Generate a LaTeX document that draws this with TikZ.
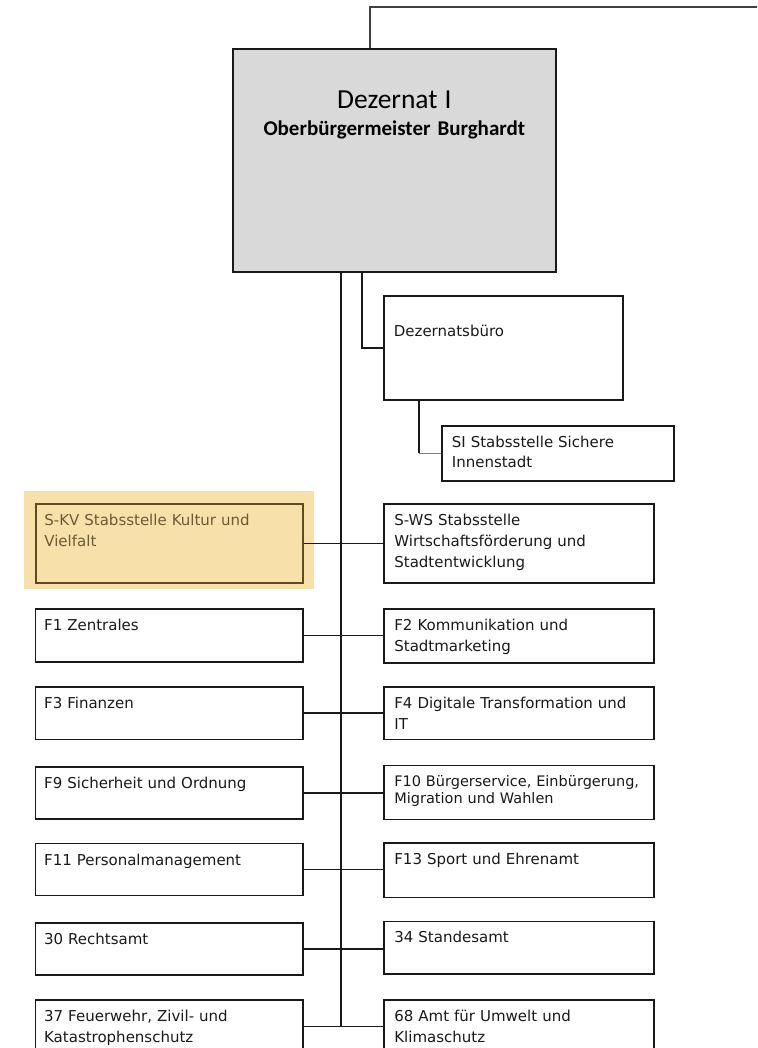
\documentclass[tikz,border=0pt]{standalone}
\usepackage{fontspec}
\setmainfont{DejaVu Sans}
\newfontfamily\headfont{Carlito}
\definecolor{dezgray}{HTML}{D9D9D9}
\definecolor{kvfill}{HTML}{F7E0A9}
\definecolor{kvline}{HTML}{5E4B20}
\definecolor{kvtext}{HTML}{6E5A35}
\tikzset{
  unit/.style={draw=black!90, line width=1.7pt, anchor=north west, inner ysep=0pt,
    align=left, text height=22pt, text depth=31pt, text=black!90,
    font=\fontsize{15}{21}\selectfont},
  leftunit/.style={unit, inner xsep=8.8pt, text width=250pt},
  rightunit/.style={unit, inner xsep=10.5pt, text width=249pt},
  dezbox/.style={draw=black!90, fill=dezgray, line width=1.7pt, anchor=north west,
    inner sep=0pt, text width=323pt, align=center, text height=59.5pt,
    text depth=163.5pt, font=\headfont\fontsize{21}{27.5}\selectfont},
  link/.style={draw=black!90, line width=1.6pt},
}
\begin{document}
\begin{tikzpicture}[x=1pt,y=-1pt]
  \path[use as bounding box, clip] (0,0) rectangle (757,1048);
  % head of the department
  \node[dezbox] (dez) at (232,48)
    {{\fontsize{27.5}{27.5}\selectfont Dezernat I}\\ \textbf{Oberbürgermeister Burghardt}};
  \coordinate (topright) at (757,7);
  \draw[link, draw=black!75] ([xshift=138pt]dez.north west) |- (topright);
  % office and staff unit
  \node[unit, inner xsep=10pt, text width=219pt, text height=41pt, text depth=63pt]
    (dzb) at (383,295) {Dezernatsbüro};
  \node[unit, inner xsep=10pt, text width=212pt, text height=21.7pt, text depth=33.3pt,
    font=\fontsize{15}{20}\selectfont] (si) at (441,425) {SI Stabsstelle Sichere\\Innenstadt};
  \draw[link] ([xshift=130pt]dez.south west) |- (dzb.west);
  \coordinate (sitop) at ([xshift=36pt]dzb.south west);
  \draw[link] (sitop) -- (sitop |- si.west);
  \draw[link, draw=gray] (sitop |- si.west) -- (si.west);
  % staff units
  \fill[kvfill] (24,491) rectangle (314,589);
  \node[leftunit, draw=kvline, text=kvtext, inner xsep=8.5pt, text depth=57pt]
    (skv) at (35,503) {S-KV Stabsstelle Kultur und\\Vielfalt};
  \node[rightunit, text depth=57pt] (sws) at (383,503)
    {S-WS Stabsstelle\\Wirtschaftsförderung und\\Stadtentwicklung};
  % left column
  \node[leftunit] (f1) at (34.5,608) {F1 Zentrales};
  \node[leftunit, text depth=30.5pt] (f3) at (34.5,686) {F3 Finanzen};
  \node[leftunit, text depth=30pt] (f9) at (34.5,766) {F9 Sicherheit und Ordnung};
  \node[leftunit, text depth=30pt] (f11) at (34.5,842.5) {F11 Personalmanagement};
  \node[leftunit, text depth=30pt] (a30) at (34.5,922) {30 Rechtsamt};
  \node[leftunit] (a37) at (34.5,999) {37 Feuerwehr, Zivil- und\\Katastrophenschutz};
  % right column
  \node[rightunit, text depth=32pt] (f2) at (383,608) {F2 Kommunikation und\\Stadtmarketing};
  \node[rightunit, text depth=30.5pt] (f4) at (383,686) {F4 Digitale Transformation und\\IT};
  \node[rightunit, text height=20.7pt, text depth=33.3pt, font=\fontsize{14.5}{17.7}\selectfont]
    (f10) at (383,764.5) {F10 Bürgerservice, Einbürgerung,\\Migration und Wahlen};
  \node[rightunit, text depth=32.5pt] (f13) at (383,842) {F13 Sport und Ehrenamt};
  \node[rightunit, text height=21pt, text depth=31.5pt] (a34) at (383,920.5) {34 Standesamt};
  \node[rightunit] (a68) at (383,999) {68 Amt für Umwelt und\\Klimaschutz};
  % connectors
  \coordinate (trunk) at ([xshift=109pt]dez.south west);
  \draw[link] (trunk) -- (trunk |- a37.east);
  \foreach \l/\r in {skv/sws, f1/f2, f3/f4, f9/f10, f11/f13, a30/a34, a37/a68}
    \draw[link] (\l.east) -- (\l.east -| \r.west);
\end{tikzpicture}
\end{document}
